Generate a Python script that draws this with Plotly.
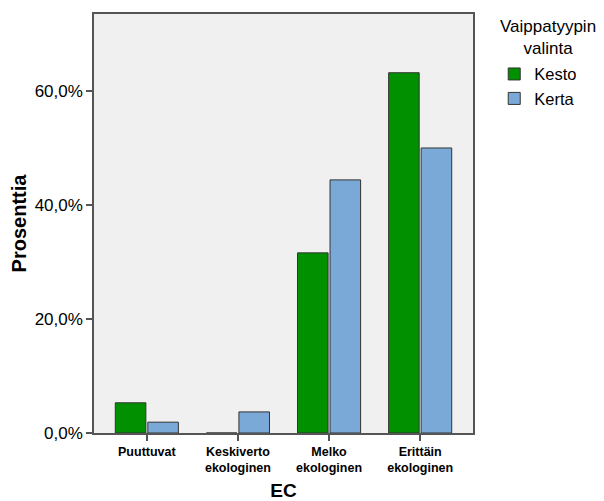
import plotly.graph_objects as go

categories = ["Puuttuvat", "Keskiverto<br>ekologinen", "Melko<br>ekologinen", "Erittäin<br>ekologinen"]
kesto = [5.3, 0.0, 31.6, 63.2]
kerta = [1.9, 3.7, 44.4, 50.0]
y_ticks = [0, 20, 40, 60]
y_tick_labels = ["0,0%", "20,0%", "40,0%", "60,0%"]

fig = go.Figure()
fig.add_trace(go.Bar(name="Kesto", x=categories, y=kesto, marker=dict(color="#009000", line=dict(color="#333333", width=1))))
fig.add_trace(go.Bar(name="Kerta", x=categories, y=kerta, marker=dict(color="#7aa9d7", line=dict(color="#333333", width=1))))

fig.update_layout(
    width=596, height=493,
    margin=dict(l=86, r=131, t=6, b=68, autoexpand=False),
    paper_bgcolor="white", plot_bgcolor="#f0f0f0",
    barmode="group", bargap=0.286, bargroupgap=0.06,
    font=dict(family="Arial, Liberation Sans", color="#000000"),
    showlegend=True,
    legend=dict(
        x=1.056, y=0.898, xanchor="left", yanchor="top",
        font=dict(size=16.5), itemwidth=30, tracegroupgap=0,
        bgcolor="rgba(0,0,0,0)",
    ),
    annotations=[dict(
        text="Vaippatyypin<br>valinta", xref="paper", yref="paper",
        x=1.198, y=0.945, xanchor="center", yanchor="middle",
        showarrow=False, font=dict(size=17), align="center",
    )],
    xaxis=dict(
        range=[-0.58, 3.58], showline=True, linecolor="#555555", linewidth=1.5, mirror=True,
        ticks="outside", ticklen=6, tickcolor="#555555", tickwidth=1.5,
        tickfont=dict(size=12.5, weight="bold"),
        title=dict(text="<b>EC</b>", font=dict(size=19)),
        showgrid=False, automargin=False,
    ),
    yaxis=dict(
        range=[0, 73.5], showline=True, linecolor="#555555", linewidth=1.5, mirror=True,
        ticks="outside", ticklen=6, tickcolor="#555555", tickwidth=1.5,
        tickvals=y_ticks, ticktext=y_tick_labels,
        tickfont=dict(size=17),
        title=dict(text="<b>Prosenttia</b>", font=dict(size=20)),
        showgrid=False, zeroline=False, automargin=False,
    ),
)
fig.write_html("out.html")
